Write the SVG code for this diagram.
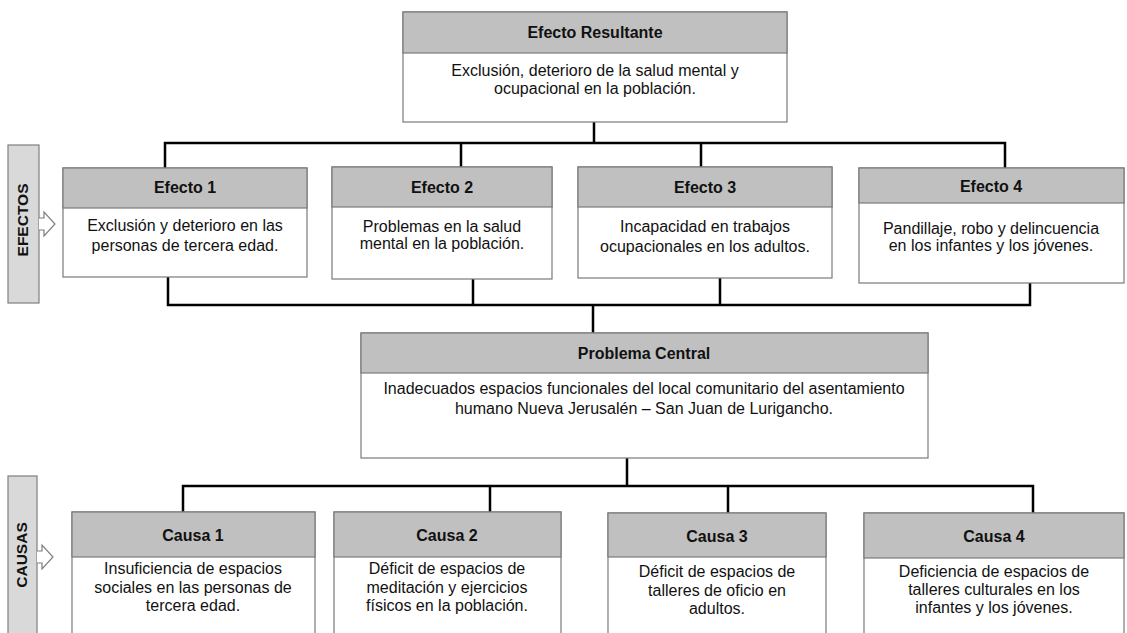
<svg xmlns="http://www.w3.org/2000/svg" width="1127" height="633" viewBox="0 0 1127 633">
<style>
.box{fill:#ffffff;stroke:#7a7a7a;stroke-width:1.2}
.hdr{fill:#c0c0c0;stroke:#7a7a7a;stroke-width:1.2}
.side{fill:#d9d9d9;stroke:#7f7f7f;stroke-width:1.2}
.arr{fill:#ffffff;stroke:#7f7f7f;stroke-width:1.2}
.t{font-family:"Liberation Sans",Arial,sans-serif;font-size:16px;fill:#111;text-anchor:middle}
.h{font-family:"Liberation Sans",Arial,sans-serif;font-size:16px;font-weight:bold;fill:#111;text-anchor:middle}
.s{font-family:"Liberation Sans",Arial,sans-serif;font-size:15.5px;font-weight:bold;fill:#111;text-anchor:middle}
.c{fill:none;stroke:#000;stroke-width:2.5;stroke-linecap:square}
</style>
<rect width="1127" height="633" fill="#ffffff"/>
<g id="connectors">
<path class="c" d="M594,122 V143 M165,143 H1005 M165,143 V168 M461,143 V167 M701,143 V167 M1005,143 V168"/>
<path class="c" d="M168,277 V305 H1030 V283 M473,279 V305 M720,278 V305 M593,305 V333"/>
<path class="c" d="M627,458 V486 M183,486 H1033 M183,486 V512 M490,486 V512 M728,486 V513 M1033,486 V513"/>
</g>
<g id="efectos-label">
<rect class="side" x="8" y="145" width="31" height="158"/>
<path class="arr" d="M39,218 H44 V212 L55,224 L44,236 V230 H39"/>
<text class="s" transform="translate(28,220) rotate(-90)">EFECTOS</text>
</g>
<g id="causas-label">
<rect class="side" x="8" y="476" width="29" height="170"/>
<path class="arr" d="M37,551 H42 V545 L53,557 L42,569 V563 H37"/>
<text class="s" transform="translate(27,555) rotate(-90)">CAUSAS</text>
</g>
<g id="efecto-resultante">
<rect class="box" x="403" y="12" width="384" height="110"/>
<rect class="hdr" x="403" y="12" width="384" height="41"/>
<text class="h" x="595" y="38">Efecto Resultante</text>
<text class="t" x="595" y="76">Exclusión, deterioro de la salud mental y</text>
<text class="t" x="595" y="94">ocupacional en la población.</text>
</g>
<g id="efecto-1">
<rect class="box" x="63" y="168" width="244" height="109"/>
<rect class="hdr" x="63" y="168" width="244" height="40"/>
<text class="h" x="185" y="193">Efecto 1</text>
<text class="t" x="185" y="231">Exclusión y deterioro en las</text>
<text class="t" x="185" y="251">personas de tercera edad.</text>
</g>
<g id="efecto-2">
<rect class="box" x="332" y="167" width="220" height="112"/>
<rect class="hdr" x="332" y="167" width="220" height="40"/>
<text class="h" x="442" y="193">Efecto 2</text>
<text class="t" x="442" y="232">Problemas en la salud</text>
<text class="t" x="442" y="249">mental en la población.</text>
</g>
<g id="efecto-3">
<rect class="box" x="578" y="167" width="254" height="111"/>
<rect class="hdr" x="578" y="167" width="254" height="40"/>
<text class="h" x="705" y="193">Efecto 3</text>
<text class="t" x="705" y="232">Incapacidad en trabajos</text>
<text class="t" x="705" y="252">ocupacionales en los adultos.</text>
</g>
<g id="efecto-4">
<rect class="box" x="859" y="168" width="265" height="115"/>
<rect class="hdr" x="859" y="168" width="265" height="35"/>
<text class="h" x="991" y="192">Efecto 4</text>
<text class="t" x="991" y="234">Pandillaje, robo y delincuencia</text>
<text class="t" x="991" y="251">en los infantes y los jóvenes.</text>
</g>
<g id="problema-central">
<rect class="box" x="361" y="333" width="567" height="125"/>
<rect class="hdr" x="361" y="333" width="567" height="40"/>
<text class="h" x="644" y="359">Problema Central</text>
<text class="t" x="644" y="394">Inadecuados espacios funcionales del local comunitario del asentamiento</text>
<text class="t" x="644" y="414">humano Nueva Jerusalén – San Juan de Lurigancho.</text>
</g>
<g id="causa-1">
<rect class="box" x="72" y="512" width="243" height="140"/>
<rect class="hdr" x="72" y="512" width="243" height="45"/>
<text class="h" x="193" y="541">Causa 1</text>
<text class="t" x="193" y="574">Insuficiencia de espacios</text>
<text class="t" x="193" y="593">sociales en las personas de</text>
<text class="t" x="193" y="611">tercera edad.</text>
</g>
<g id="causa-2">
<rect class="box" x="334" y="512" width="227" height="140"/>
<rect class="hdr" x="334" y="512" width="227" height="45"/>
<text class="h" x="447" y="541">Causa 2</text>
<text class="t" x="447" y="574">Déficit de espacios de</text>
<text class="t" x="447" y="593">meditación y ejercicios</text>
<text class="t" x="447" y="611">físicos en la población.</text>
</g>
<g id="causa-3">
<rect class="box" x="608" y="513" width="218" height="140"/>
<rect class="hdr" x="608" y="513" width="218" height="44"/>
<text class="h" x="717" y="542">Causa 3</text>
<text class="t" x="717" y="577">Déficit de espacios de</text>
<text class="t" x="717" y="596">talleres de oficio en</text>
<text class="t" x="717" y="614">adultos.</text>
</g>
<g id="causa-4">
<rect class="box" x="864" y="513" width="260" height="140"/>
<rect class="hdr" x="864" y="513" width="260" height="45"/>
<text class="h" x="994" y="542">Causa 4</text>
<text class="t" x="994" y="577">Deficiencia de espacios de</text>
<text class="t" x="994" y="595">talleres culturales en los</text>
<text class="t" x="994" y="613">infantes y los jóvenes.</text>
</g>
</svg>
